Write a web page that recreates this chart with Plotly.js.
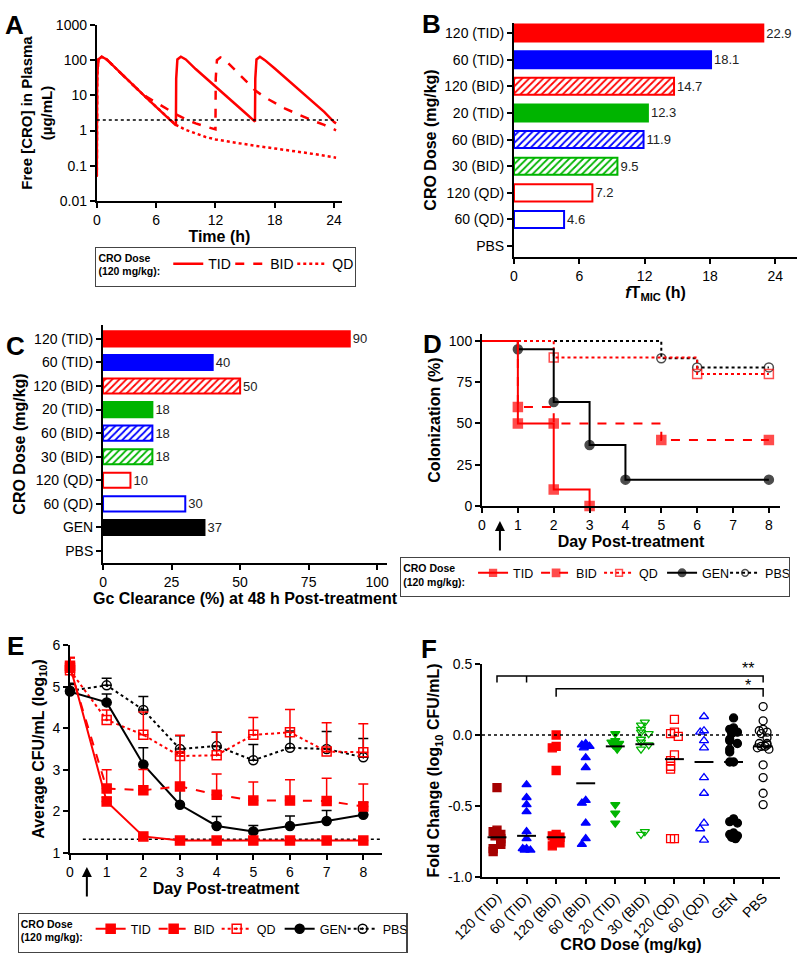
<!DOCTYPE html>
<html>
<head>
<meta charset="utf-8">
<script src="https://cdn.plot.ly/plotly-3.0.1.min.js"></script>
<style>
  html, body { margin: 0; padding: 0; background: #fff; }
  #plot { width: 800px; height: 953px; }
</style>
</head>
<body>
<div id="plot"></div>
<script>
// ---- A: free CRO in plasma ----
const tTID = [0, 0.03, 0.15, 0.5, 1, 2, 3, 4, 5, 6, 7, 8, 8.03, 8.15, 8.5, 9, 10, 11, 12, 13, 14, 15, 16, 16.03, 16.15, 16.5, 17, 18, 19, 20, 21, 22, 23, 24, 24.2];
const cTID = [0.05, 30, 105, 125, 105, 55, 30, 16, 8.6, 4.7, 2.6, 1.4, 30, 105, 125, 105, 56, 32, 18, 10, 5.7, 3.2, 1.8, 30, 105, 125, 100, 58, 33, 19, 10.5, 6, 3.4, 1.75, 1.6];
const tBID = [0, 0.03, 0.15, 0.5, 1, 2, 3, 4, 5, 6, 7, 8, 9, 10, 11, 12, 12.03, 12.15, 12.5, 13, 14, 15, 16, 17, 18, 19, 20, 21, 22, 23, 24, 24.2];
const cBID = [0.05, 30, 105, 125, 105, 55, 30, 16, 9.2, 6.2, 4.2, 2.9, 2.1, 1.6, 1.3, 1.08, 30, 100, 120, 100, 52, 27, 14, 8.8, 6.0, 4.3, 3.2, 2.4, 1.85, 1.45, 1.1, 1.02];
const tQD = [0, 0.03, 0.15, 0.5, 1, 2, 3, 4, 5, 6, 7, 8, 9, 10, 11, 12, 14, 16, 18, 20, 22, 24.2];
const cQD = [0.05, 30, 105, 125, 105, 55, 30, 16, 8.6, 4.7, 2.6, 1.45, 1.05, 0.82, 0.66, 0.56, 0.45, 0.37, 0.31, 0.26, 0.215, 0.17];
const micA = 2;

// ---- B / C: bar panels ----
const groupsB = ["120 (TID)", "60 (TID)", "120 (BID)", "20 (TID)", "60 (BID)", "30 (BID)", "120 (QD)", "60 (QD)", "PBS"];
const fTmic = [22.9, 18.1, 14.7, 12.3, 11.9, 9.5, 7.2, 4.6, 0];
const groupsC = ["120 (TID)", "60 (TID)", "120 (BID)", "20 (TID)", "60 (BID)", "30 (BID)", "120 (QD)", "60 (QD)", "GEN", "PBS"];
const clearance = [90, 40, 50, 18, 18, 18, 10, 30, 37, 0];

// ---- D: colonization (step curves) ----
const dDaysTID = [0, 1, 2, 3],        dTID = [100, 50, 10, 0];
const dDaysBID = [0, 1, 2, 5, 8],     dBID = [100, 60, 50, 40, 40];
const dDaysQD  = [0, 2, 6, 8],        dQD  = [100, 90, 80, 80];
const dDaysGEN = [0, 1, 2, 3, 4, 8],  dGEN = [100, 95, 63, 37, 16, 16];
const dDaysPBS = [0, 5, 6, 8],        dPBS = [100, 89.5, 84, 84];

// ---- E: average CFU ----
const days = [0, 1, 2, 3, 4, 5, 6, 7, 8];
const eTID = [5.5, 2.24, 1.4, 1.3, 1.3, 1.3, 1.3, 1.3, 1.3];
const eTIDerr = [0.2, 0.1, 0, 0, 0, 0, 0, 0, 0];
const eBID = [5.45, 2.55, 2.51, 2.6, 2.4, 2.26, 2.26, 2.25, 2.12];
const eBIDerr = [0.25, 0.45, 0.5, 0.8, 0.5, 0.45, 0.5, 0.55, 0.54];
const eQD = [5.39, 4.2, 3.84, 3.33, 3.35, 3.84, 3.9, 3.44, 3.42];
const eQDerr = [0.3, 0.24, 0.55, 0.5, 0.55, 0.42, 0.55, 0.69, 0.69];
const eGEN = [4.88, 4.62, 3.13, 2.16, 1.65, 1.52, 1.65, 1.77, 1.92];
const eGENerr = [0.2, 0.2, 0.4, 0.35, 0.23, 0.14, 0.24, 0.25, 0.3];
const ePBS = [4.9, 5.03, 4.44, 3.5, 3.57, 3.23, 3.53, 3.5, 3.3];
const ePBSerr = [0.15, 0.17, 0.32, 0.32, 0.33, 0.38, 0.4, 0.42, 0.45];
const lodE = 1.33;

// ---- F: fold change per group ----
const groupsF = ["120 (TID)", "60 (TID)", "120 (BID)", "60 (BID)", "20 (TID)", "30 (BID)", "120 (QD)", "60 (QD)", "GEN", "PBS"];
const fTID120 = [-0.37, -0.67, -0.68, -0.70, -0.71, -0.73, -0.75, -0.77, -0.80, -0.82];
const fTID60 = [-0.35, -0.44, -0.49, -0.54, -0.68, -0.73, -0.80, -0.80, -0.81, -0.81];
const fBID120 = [0.0, -0.08, -0.09, -0.25, -0.70, -0.71, -0.72, -0.73, -0.76, -0.78];
const fBID60 = [-0.06, -0.07, -0.08, -0.09, -0.16, -0.23, -0.46, -0.48, -0.62, -0.73, -0.77];
const fTID20 = [0.01, -0.04, -0.05, -0.06, -0.07, -0.08, -0.09, -0.10, -0.49, -0.55, -0.62];
const fBID30 = [0.09, 0.07, 0.04, 0.02, 0.01, -0.03, -0.05, -0.07, -0.10, -0.68, -0.70];
const fQD120 = [0.11, 0.02, 0.01, -0.01, -0.14, -0.18, -0.22, -0.24, -0.73, -0.73];
const fQD60 = [0.13, 0.03, 0.02, -0.04, -0.09, -0.30, -0.41, -0.62, -0.66, -0.74];
const fGEN = [0.12, 0.05, 0.04, 0.02, 0.01, -0.03, -0.04, -0.06, -0.10, -0.12, -0.19, -0.19, -0.59, -0.61, -0.62, -0.69, -0.70, -0.71, -0.72, -0.73];
const fPBS = [0.20, 0.10, 0.04, 0.03, 0.02, 0.01, -0.02, -0.06, -0.06, -0.07, -0.08, -0.08, -0.09, -0.10, -0.21, -0.30, -0.41, -0.49];
const fMedians = [-0.72, -0.71, -0.72, -0.34, -0.08, -0.065, -0.17, -0.19, -0.19, -0.08];

const RED = "#ff0000", BLUE = "#0000ff", GREEN = "#00b400", DKRED = "#a50000";
const FONT = 'Arial, "Liberation Sans", sans-serif';

function ax(extra) {
  return Object.assign({
    showline: true, linecolor: "black", linewidth: 2,
    ticks: "outside", ticklen: 5, tickwidth: 2, tickcolor: "black",
    showgrid: false, zeroline: false, fixedrange: true,
    tickfont: { size: 14, color: "black" }
  }, extra);
}
function ttl(t, standoff, size) {
  return { text: "<b>" + t + "</b>", standoff: standoff, font: { size: size || 16, color: "black" } };
}

// spread points of a group sideways so overlapping ones are visible
function spread(vals, idx) {
  const pat = [0, -1, 1, -0.5, 0.5, -1.5, 1.5, -2, 2];
  return vals.map((v, i) => {
    let k = 0;
    for (let j = 0; j < i; j++) if (Math.abs(vals[j] - v) < 0.045) k++;
    return idx + pat[k % pat.length] * 0.13;
  });
}

const traces = [];

// A
traces.push(
  { x: tTID, y: cTID, xaxis: "x", yaxis: "y", mode: "lines", name: "TID", legend: "legend",
    line: { color: RED, width: 2.5 } },
  { x: tBID, y: cBID, xaxis: "x", yaxis: "y", mode: "lines", name: "BID", legend: "legend",
    line: { color: RED, width: 2.5, dash: "dash" } },
  { x: tQD, y: cQD, xaxis: "x", yaxis: "y", mode: "lines", name: "QD", legend: "legend",
    line: { color: RED, width: 2.5, dash: "dot" } },
  { x: [0, 24.4], y: [micA, micA], xaxis: "x", yaxis: "y", mode: "lines", showlegend: false,
    line: { color: "black", width: 1.5, dash: "dot" } }
);

// one trace per bar so each bar keeps its own fill / hatch
function addBars(labels, values, xa, ya, fmt) {
  labels.forEach((l, i) => {
    const col = l.includes("GEN") ? "black" : l.startsWith("120") ? RED : l.startsWith("60") ? BLUE : GREEN;
    const kind = l.includes("QD") ? "open" : l.includes("BID") ? "hatch" : "solid";
    const marker = { color: kind === "solid" ? col : "white",
      line: { color: col, width: values[i] ? 2 : 0 } };
    if (kind === "hatch") {
      marker.color = col;
      marker.pattern = { shape: "/", fgcolor: col, bgcolor: "white", size: 5, solidity: 0.35, fillmode: "replace" };
    }
    traces.push({
      type: "bar", orientation: "h", x: [values[i]], y: [l], xaxis: xa, yaxis: ya,
      width: 0.64, marker: marker, showlegend: false,
      text: [values[i] ? fmt(values[i]) : ""], textposition: "outside",
      textfont: { size: 13, color: "#222" }, cliponaxis: false
    });
  });
}
addBars(groupsB, fTmic, "x2", "y2", v => v.toFixed(1));
addBars(groupsC, clearance, "x3", "y3", v => String(v));

// D
function stepTrace(x, y, name, color, dash, symbol, rank) {
  return { x: x, y: y, xaxis: "x4", yaxis: "y4", mode: "lines+markers", name: name, legend: "legend2",
    legendrank: rank,
    line: { color: color, width: 2, dash: dash, shape: "hv" },
    marker: { color: color, symbol: symbol, size: x.map((v, i) => i === 0 ? 0 : 9), line: { width: 1.5, color: color } },
    cliponaxis: false };
}
traces.push(
  stepTrace(dDaysPBS, dPBS, "PBS", "black", "dot", "circle-open", 5),
  stepTrace(dDaysQD, dQD, "QD", RED, "dot", "square-open", 3),
  stepTrace(dDaysGEN, dGEN, "GEN", "black", "solid", "circle", 4),
  stepTrace(dDaysBID, dBID, "BID", RED, "dash", "square", 2),
  stepTrace(dDaysTID, dTID, "TID", RED, "solid", "square", 1)
);

// E
function cfuTrace(y, err, name, color, dash, symbol, rank) {
  return { x: days, y: y, xaxis: "x5", yaxis: "y5", mode: "lines+markers", name: name, legend: "legend3",
    legendrank: rank,
    line: { color: color, width: 2, dash: dash },
    marker: { color: color, symbol: symbol, size: 9, line: { width: 1.5, color: color } },
    error_y: { type: "data", symmetric: false, array: err, arrayminus: err.map(() => 0),
      color: color, thickness: 1.5, width: 5 },
    cliponaxis: false };
}
traces.push(
  { x: [0.35, 8.5], y: [lodE, lodE], xaxis: "x5", yaxis: "y5", mode: "lines", showlegend: false,
    line: { color: "black", width: 1.5, dash: "dot" } },
  cfuTrace(ePBS, ePBSerr, "PBS", "black", "dot", "circle-open-dot", 5),
  cfuTrace(eQD, eQDerr, "QD", RED, "dot", "square-open-dot", 3),
  cfuTrace(eGEN, eGENerr, "GEN", "black", "solid", "circle", 4),
  cfuTrace(eBID, eBIDerr, "BID", RED, "dash", "square", 2),
  cfuTrace(eTID, eTIDerr, "TID", RED, "solid", "square", 1)
);

// F
const fSets = [fTID120, fTID60, fBID120, fBID60, fTID20, fBID30, fQD120, fQD60, fGEN, fPBS];
const fColors = [DKRED, BLUE, RED, BLUE, GREEN, GREEN, RED, BLUE, "black", "black"];
const fSymbols = ["square", "triangle-up", "square", "triangle-up", "triangle-down", "triangle-down-open",
  "square-open", "triangle-up-open", "circle", "circle-open"];
fSets.forEach((vals, i) => {
  traces.push({ x: spread(vals, i), y: vals, xaxis: "x6", yaxis: "y6", mode: "markers", showlegend: false,
    marker: { color: fColors[i], symbol: fSymbols[i], size: 8, line: { width: 1.3, color: fColors[i] } },
    cliponaxis: false });
});
const medX = [], medY = [];
fMedians.forEach((m, i) => { medX.push(i - 0.32, i + 0.32, null); medY.push(m, m, null); });
traces.push({ x: medX, y: medY, xaxis: "x6", yaxis: "y6", mode: "lines", showlegend: false,
  line: { color: "black", width: 2 } });
traces.push({ x: [-0.507, 9.57], y: [0, 0], xaxis: "x6", yaxis: "y6", mode: "lines", showlegend: false,
  line: { color: "black", width: 1.5, dash: "dot" } });

const legendBase = {
  orientation: "h", yanchor: "top",
  bordercolor: "#444", borderwidth: 1.2, bgcolor: "white",
  font: { family: FONT, size: 12.5, color: "black" },
  title: { text: "<b>CRO Dose<br>(120 mg/kg):</b>", side: "left", font: { size: 10.5, color: "black" } },
  traceorder: "normal", itemwidth: 30
};

const layout = {
  width: 800, height: 953,
  margin: { l: 0, r: 0, t: 0, b: 0 },
  paper_bgcolor: "white", plot_bgcolor: "white",
  font: { family: FONT, color: "black" },
  barmode: "overlay",
  legend: Object.assign({}, legendBase, { x: 0.119, xanchor: "left", y: 0.741, entrywidth: 17,
    font: { family: FONT, size: 14, color: "black" } }),
  legend2: Object.assign({}, legendBase, { x: 0.9875, xanchor: "right", y: 0.4155, entrywidth: 18 }),
  legend3: Object.assign({}, legendBase, { x: 0.022, xanchor: "left", y: 0.042, entrywidth: 18 }),

  xaxis: ax({ anchor: "y", domain: [0.121, 0.4275], range: [0, 24.8], tickvals: [0, 6, 12, 18, 24],
    title: ttl("Time (h)", 2) }),
  yaxis: ax({ anchor: "x", domain: [0.7891, 0.9738], type: "log", range: [-2, 3],
    tickvals: [0.01, 0.1, 1, 10, 100, 1000], ticktext: ["0.01", "0.1", "1", "10", "100", "1000"],
    title: ttl("Free [CRO] in Plasma<br>(µg/mL)", 0, 15) }),

  xaxis2: ax({ anchor: "y2", domain: [0.6425, 0.9963], range: [0, 26], tickvals: [0, 6, 12, 18, 24],
    title: ttl("<i>f</i>T<sub>MIC</sub> (h)", 2) }),
  yaxis2: ax({ anchor: "x2", domain: [0.7303, 0.9759], type: "category", categoryorder: "array",
    categoryarray: groupsB, range: [8.41, -0.38], title: ttl("CRO Dose (mg/kg)", 4) }),

  xaxis3: ax({ anchor: "y3", domain: [0.1288, 0.4838], range: [0, 103.6], tickvals: [0, 25, 50, 75, 100],
    title: ttl("Gc Clearance (%) at 48 h Post-treatment", 2) }),
  yaxis3: ax({ anchor: "x3", domain: [0.4092, 0.659], type: "category", categoryorder: "array",
    categoryarray: groupsC, range: [9.51, -0.59], title: ttl("CRO Dose (mg/kg)", 4) }),

  xaxis4: ax({ anchor: "y4", domain: [0.6025, 0.975], range: [0, 8.31], dtick: 1,
    title: ttl("Day Post-treatment", 2) }),
  yaxis4: ax({ anchor: "x4", domain: [0.469, 0.6495], range: [0, 104.2], tickvals: [0, 25, 50, 75, 100],
    title: ttl("Colonization (%)", 4) }),

  xaxis5: ax({ anchor: "y5", domain: [0.0875, 0.4775], range: [0, 8.51], dtick: 1,
    title: ttl("Day Post-treatment", 2) }),
  yaxis5: ax({ anchor: "x5", domain: [0.1049, 0.3232], range: [1, 6], dtick: 1,
    title: ttl("Average CFU/mL (log<sub>10</sub>)", 4) }),

  xaxis6: ax({ anchor: "y6", domain: [0.6025, 0.975], range: [-0.507, 9.57],
    tickvals: groupsF.map((g, i) => i), ticktext: groupsF, tickangle: -45,
    title: ttl("CRO Dose (mg/kg)", 2) }),
  yaxis6: ax({ anchor: "x6", domain: [0.0797, 0.3033], range: [-1, 0.5],
    tickvals: [-1, -0.5, 0, 0.5], ticktext: ["-1.0", "-0.5", "0.0", "0.5"],
    title: ttl("Fold Change (log<sub>10</sub> CFU/mL)", 4) }),

  shapes: [
    { type: "path", xref: "x6", yref: "y6", path: "M0,0.37 L0,0.415 L9,0.415 L9,0.37 M1,0.415 L1,0.37",
      line: { color: "black", width: 1.5 } },
    { type: "path", xref: "x6", yref: "y6", path: "M2,0.27 L2,0.325 L9,0.325 L9,0.27",
      line: { color: "black", width: 1.5 } }
  ],
  annotations: [
    { text: "**", xref: "x6", yref: "y6", x: 8.5, y: 0.465, showarrow: false, font: { size: 16 } },
    { text: "*", xref: "x6", yref: "y6", x: 8.5, y: 0.345, showarrow: false, font: { size: 16 } },
    // treatment arrows
    { xref: "x4", yref: "paper", x: 0.5, y: 1 - 521 / 953, ax: 0, ay: 31, text: "", showarrow: true,
      arrowhead: 2, arrowsize: 1, arrowwidth: 2, arrowcolor: "black" },
    { xref: "x5", yref: "paper", x: 0.46, y: 1 - 867 / 953, ax: 0, ay: 31, text: "", showarrow: true,
      arrowhead: 2, arrowsize: 1, arrowwidth: 2, arrowcolor: "black" }
  ]
};
// panel letters
[["A", 3, 8], ["B", 420, 7], ["C", 4, 329], ["D", 421, 327], ["E", 5, 629], ["F", 419, 632]].forEach(p => {
  layout.annotations.push({ text: "<b>" + p[0] + "</b>", xref: "paper", yref: "paper",
    x: p[1] / 800, y: 1 - p[2] / 953, xanchor: "left", yanchor: "top", showarrow: false,
    font: { size: 26, color: "black" } });
});

Plotly.newPlot("plot", traces, layout, { displayModeBar: false });
</script>
</body>
</html>
